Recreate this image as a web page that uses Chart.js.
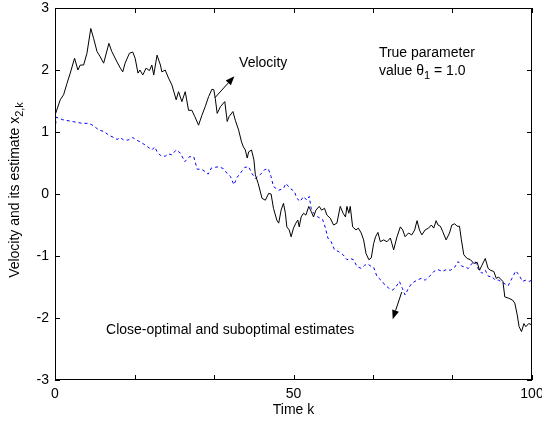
<!DOCTYPE html>
<html>
<head>
<meta charset="utf-8">
<script src="https://cdn.jsdelivr.net/npm/chart.js@4"></script>
<style>
  body { margin: 0; background: #fff; }
  #wrap { width: 542px; height: 426px; }
</style>
</head>
<body>
<div id="wrap"><canvas id="myChart"></canvas></div>
<script>
// velocity x_2,k (black solid)
const velK = [0, 1.1, 1.8, 2.5, 3.2, 4.1, 4.8, 5.3, 6.0, 6.7, 7.5, 8.1, 8.8, 9.5, 10.2, 11.3, 11.9, 13.0, 13.7, 14.2,
  14.7, 15.6, 16.3, 16.8, 17.4, 17.8, 18.4, 19.1, 19.8, 20.3, 20.7, 21.4, 22.1, 22.4, 23.1, 23.8, 24.5, 25.4, 25.9, 26.6,
  27.3, 28.0, 28.7, 29.3, 30.1, 30.8, 31.5, 32.2, 32.9, 33.3, 33.6, 34.0, 34.7, 35.6, 36.1, 36.5, 37.3, 37.8, 38.5, 39.1,
  39.5, 39.9, 40.3, 40.6, 41.2, 41.7, 42.0, 42.6, 43.4, 44.1, 44.8, 45.3, 45.8, 46.5, 46.9, 47.4, 47.9, 48.3, 48.6, 49.1,
  49.5, 50.0, 50.5, 50.9, 51.2, 51.6, 52.1, 52.6, 53.2, 53.7, 54.2, 54.7, 55.4, 55.9, 56.5, 57.0, 57.7, 58.4, 59.1, 59.8,
  60.4, 60.9, 61.2, 61.6, 61.9, 62.4, 63.1, 63.6, 64.2, 64.7, 65.2, 65.8, 66.3, 66.8, 67.2, 67.7, 68.2, 68.9, 69.6, 70.3,
  71.0, 71.7, 72.4, 72.9, 73.4, 74.1, 74.8, 75.4, 75.9, 76.4, 76.9, 77.6, 78.3, 78.9, 79.4, 79.9, 80.3, 80.8, 81.3, 82.0,
  82.7, 83.2, 83.8, 84.3, 84.8, 85.2, 85.7, 86.4, 87.1, 87.8, 88.5, 89.0, 89.5, 90.2, 90.8, 91.3, 92.0, 92.5, 93.0, 93.9,
  94.3, 95.1, 95.9, 96.4, 96.9, 97.3, 97.8, 98.3, 98.7, 99.3, 100];
const velV = [1.27, 1.52, 1.60, 1.78, 1.95, 2.19, 2.00, 2.08, 2.08, 2.27, 2.67, 2.51, 2.30, 2.21, 2.11, 2.43, 2.30, 2.13, 2.03, 1.97,
  2.11, 2.27, 2.29, 2.19, 1.95, 2.00, 1.92, 2.03, 1.99, 2.08, 1.92, 2.24, 2.08, 1.97, 2.00, 1.87, 1.76, 1.52, 1.65, 1.49,
  1.65, 1.35, 1.35, 1.25, 1.11, 1.27, 1.41, 1.57, 1.69, 1.68, 1.54, 1.30, 1.41, 1.49, 1.17, 1.25, 1.33, 1.19, 1.03, 0.84,
  0.76, 0.71, 0.58, 0.68, 0.71, 0.55, 0.31, 0.17, -0.07, -0.10, 0.01, 0.00, -0.23, -0.42, -0.47, -0.26, -0.15, -0.31, -0.53, -0.58,
  -0.69, -0.55, -0.47, -0.42, -0.53, -0.37, -0.31, -0.34, -0.20, -0.28, -0.37, -0.26, -0.20, -0.26, -0.23, -0.34, -0.39, -0.50, -0.47, -0.20,
  -0.31, -0.37, -0.20, -0.31, -0.20, -0.53, -0.58, -0.55, -0.63, -0.74, -0.96, -1.06, -1.03, -0.80, -0.69, -0.62, -0.77, -0.74, -0.77, -0.71,
  -0.90, -0.69, -0.53, -0.58, -0.69, -0.63, -0.66, -0.58, -0.43, -0.58, -0.66, -0.58, -0.55, -0.50, -0.55, -0.43, -0.50, -0.52, -0.61, -0.74,
  -0.63, -0.50, -0.48, -0.52, -0.52, -0.74, -0.98, -1.04, -1.06, -1.12, -1.10, -1.23, -1.15, -1.04, -1.20, -1.23, -1.25, -1.36, -1.34, -1.41,
  -1.66, -1.68, -1.71, -1.76, -1.95, -2.14, -2.22, -2.09, -2.14, -2.09, -2.11];

// estimates (blue dashed)
const estK = [0, 0.3, 1.5, 3.6, 5.7, 7.1, 8.1, 9.2, 10.2, 11.3, 12.3, 13.0, 13.7, 14.4, 15.3, 16.3, 17.1, 18.1, 18.9, 19.8,
  20.3, 20.9, 21.4, 22.3, 23.1, 23.8, 24.5, 25.4, 26.3, 27.2, 28.1, 29.1, 29.8, 30.7, 31.5, 32.1, 32.8, 33.6, 34.3, 35.3,
  36.1, 36.8, 37.5, 38.2, 38.8, 39.8, 40.6, 41.3, 42.0, 43.0, 43.9, 44.7, 45.3, 45.8, 46.9, 47.9, 48.4, 49.3, 50.2, 50.7,
  51.4, 52.1, 52.8, 53.3, 53.7, 54.2, 55.1, 56.1, 56.7, 57.2, 57.9, 58.6, 59.5, 60.4, 61.2, 61.9, 62.6, 63.3, 64.2, 64.9,
  65.6, 66.3, 66.8, 67.5, 68.6, 69.2, 70.0, 70.7, 71.3, 72.2, 72.8, 73.4, 74.1, 74.8, 75.9, 76.8, 77.6, 78.5, 79.4, 80.3,
  81.2, 82.0, 82.9, 83.8, 84.5, 85.2, 85.9, 86.7, 87.4, 88.1, 88.8, 89.5, 90.2, 90.9, 91.6, 92.3, 93.0, 94.1, 95.0, 95.8,
  96.6, 97.3, 98.0, 98.7, 99.4, 100];
const estV = [1.03, 1.24, 1.20, 1.17, 1.14, 1.14, 1.10, 1.03, 1.01, 0.95, 0.91, 0.88, 0.91, 0.87, 0.87, 0.91, 0.87, 0.83, 0.79, 0.74,
  0.71, 0.76, 0.68, 0.61, 0.61, 0.65, 0.63, 0.71, 0.66, 0.52, 0.60, 0.60, 0.40, 0.40, 0.36, 0.32, 0.42, 0.43, 0.44, 0.41,
  0.33, 0.28, 0.15, 0.27, 0.33, 0.43, 0.44, 0.33, 0.25, 0.31, 0.39, 0.41, 0.28, 0.12, 0.06, 0.09, 0.17, 0.09, 0.04, -0.07,
  -0.12, -0.04, -0.10, -0.04, -0.23, -0.31, -0.37, -0.41, -0.55, -0.71, -0.77, -0.90, -0.93, -0.98, -1.06, -1.04, -1.06, -1.17, -1.20, -1.15,
  -1.13, -1.17, -1.18, -1.33, -1.41, -1.47, -1.52, -1.55, -1.52, -1.41, -1.52, -1.63, -1.52, -1.44, -1.39, -1.36, -1.39, -1.33, -1.25, -1.22,
  -1.25, -1.22, -1.23, -1.18, -1.09, -1.16, -1.18, -1.20, -1.12, -1.09, -1.22, -1.28, -1.23, -1.33, -1.33, -1.39, -1.39, -1.44, -1.48, -1.36,
  -1.24, -1.31, -1.41, -1.39, -1.41, -1.39];

const xTicks = [0, 100 / 6, 200 / 6, 50, 400 / 6, 500 / 6, 100];
const xTickLabels = ["0", "", "", "50", "", "", "100"];
const yTicks = [-3, -2, -1, 0, 1, 2, 3];

const FONT = '"Liberation Sans", Arial, sans-serif';

function pts(ks, vs) {
  return ks.map((k, i) => ({ x: k, y: vs[i] }));
}

// text and arrows, in data coordinates
const notes = {
  velocityText: { x: 38.6, y: 2.11 },
  velocityArrow: { from: { x: 33.5, y: 1.55 }, to: { x: 37.6, y: 1.90 } },
  paramText: { x: 67.9, y: 2.27 },
  paramText2: { x: 67.9, y: 1.98 },
  estText: { x: 10.7, y: -2.19 },
  estArrow: { from: { x: 72.7, y: -1.58 }, to: { x: 70.8, y: -2.02 } },
};

function arrow(ctx, x1, y1, x2, y2) {
  const a = Math.atan2(y2 - y1, x2 - x1);
  const len = 9, w = 3.5;
  ctx.beginPath();
  ctx.moveTo(x1, y1);
  ctx.lineTo(x2 - Math.cos(a) * len, y2 - Math.sin(a) * len);
  ctx.stroke();
  ctx.beginPath();
  ctx.moveTo(x2, y2);
  ctx.lineTo(x2 - Math.cos(a) * len - Math.sin(a) * w, y2 - Math.sin(a) * len + Math.cos(a) * w);
  ctx.lineTo(x2 - Math.cos(a) * len + Math.sin(a) * w, y2 - Math.sin(a) * len - Math.cos(a) * w);
  ctx.closePath();
  ctx.fill();
}

const decor = {
  id: "decor",
  afterDraw(chart) {
    const ctx = chart.ctx;
    const { left, right, top, bottom } = chart.chartArea;
    const sx = chart.scales.x, sy = chart.scales.y;
    ctx.save();
    ctx.strokeStyle = "#000";
    ctx.fillStyle = "#000";
    ctx.lineWidth = 1;
    // box
    ctx.strokeRect(Math.round(left) + 0.5, Math.round(top) + 0.5, Math.round(right - left) - 1, Math.round(bottom - top) - 1);
    // inward ticks
    const tl = 5;
    ctx.beginPath();
    xTicks.forEach((v) => {
      const px = Math.round(sx.getPixelForValue(v)) + 0.5;
      ctx.moveTo(px, bottom); ctx.lineTo(px, bottom - tl);
      ctx.moveTo(px, top); ctx.lineTo(px, top + tl);
    });
    yTicks.forEach((v) => {
      const py = Math.round(sy.getPixelForValue(v)) + 0.5;
      ctx.moveTo(left, py); ctx.lineTo(left + tl, py);
      ctx.moveTo(right, py); ctx.lineTo(right - tl, py);
    });
    ctx.stroke();

    // annotations
    ctx.font = "14px " + FONT;
    ctx.textBaseline = "middle";
    ctx.textAlign = "left";
    const P = (p) => [sx.getPixelForValue(p.x), sy.getPixelForValue(p.y)];
    let [tx, ty] = P(notes.velocityText);
    ctx.fillText("Velocity", tx, ty);
    [tx, ty] = P(notes.paramText);
    ctx.fillText("True parameter", tx, ty);
    [tx, ty] = P(notes.paramText2);
    const s1 = "value \u03b8";
    ctx.fillText(s1, tx, ty);
    let w = ctx.measureText(s1).width;
    ctx.font = "11px " + FONT;
    ctx.fillText("1", tx + w, ty + 5);
    w += ctx.measureText("1").width;
    ctx.font = "14px " + FONT;
    ctx.fillText(" = 1.0", tx + w, ty);
    [tx, ty] = P(notes.estText);
    ctx.fillText("Close-optimal and suboptimal estimates", tx, ty);

    let [a1, b1] = P(notes.velocityArrow.from);
    let [a2, b2] = P(notes.velocityArrow.to);
    arrow(ctx, a1, b1, a2, b2);
    [a1, b1] = P(notes.estArrow.from);
    [a2, b2] = P(notes.estArrow.to);
    arrow(ctx, a1, b1, a2, b2);

    // axis titles
    ctx.textAlign = "center";
    ctx.fillText("Time k", (left + right) / 2, 410);
    ctx.save();
    ctx.translate(15, (top + bottom) / 2 - 4);
    ctx.rotate(-Math.PI / 2);
    const main = "Velocity and its estimate x";
    const sub = "2,k";
    ctx.font = "14px " + FONT;
    const mw = ctx.measureText(main).width;
    ctx.font = "11px " + FONT;
    const sw = ctx.measureText(sub).width;
    const start = -(mw + sw) / 2;
    ctx.textAlign = "left";
    ctx.font = "14px " + FONT;
    ctx.fillText(main, start, 0);
    ctx.font = "11px " + FONT;
    ctx.fillText(sub, start + mw, 5);
    ctx.restore();
    ctx.restore();
  },
};

const config = {
  type: "scatter",
  data: {
    datasets: [
      {
        label: "Velocity",
        data: pts(velK, velV),
        showLine: true,
        borderColor: "#000",
        borderWidth: 1,
        pointRadius: 0,
        tension: 0,
      },
      {
        label: "Estimates",
        data: pts(estK, estV),
        showLine: true,
        borderColor: "#0000ff",
        borderWidth: 1,
        borderDash: [3, 3],
        pointRadius: 0,
        tension: 0,
      },
    ],
  },
  options: {
    responsive: true,
    maintainAspectRatio: false,
    animation: false,
    devicePixelRatio: 1,
    layout: { padding: { left: 0, right: 10, top: 8, bottom: 0 } },
    plugins: { legend: { display: false }, tooltip: { enabled: false } },
    scales: {
      x: {
        type: "linear",
        min: 0,
        max: 100,
        grid: { display: false, drawTicks: false },
        border: { display: false },
        afterBuildTicks: (s) => { s.ticks = xTicks.map((v) => ({ value: v })); },
        afterFit: (s) => { s.height = 46; s.paddingLeft = 0; s.paddingRight = 0; },
        ticks: {
          autoSkip: false,
          maxRotation: 0,
          padding: 6,
          color: "#000",
          font: { family: FONT, size: 14 },
          callback: (v, i) => xTickLabels[i],
        },
      },
      y: {
        type: "linear",
        min: -3,
        max: 3,
        grid: { display: false, drawTicks: false },
        border: { display: false },
        afterBuildTicks: (s) => { s.ticks = yTicks.map((v) => ({ value: v })); },
        afterFit: (s) => { s.width = 55; s.paddingTop = 0; s.paddingBottom = 0; },
        ticks: {
          padding: 6,
          color: "#000",
          font: { family: FONT, size: 14 },
          callback: (v) => String(v),
        },
      },
    },
  },
  plugins: [decor],
};

let myChart = new Chart(document.getElementById("myChart"), config);
</script>
</body>
</html>
